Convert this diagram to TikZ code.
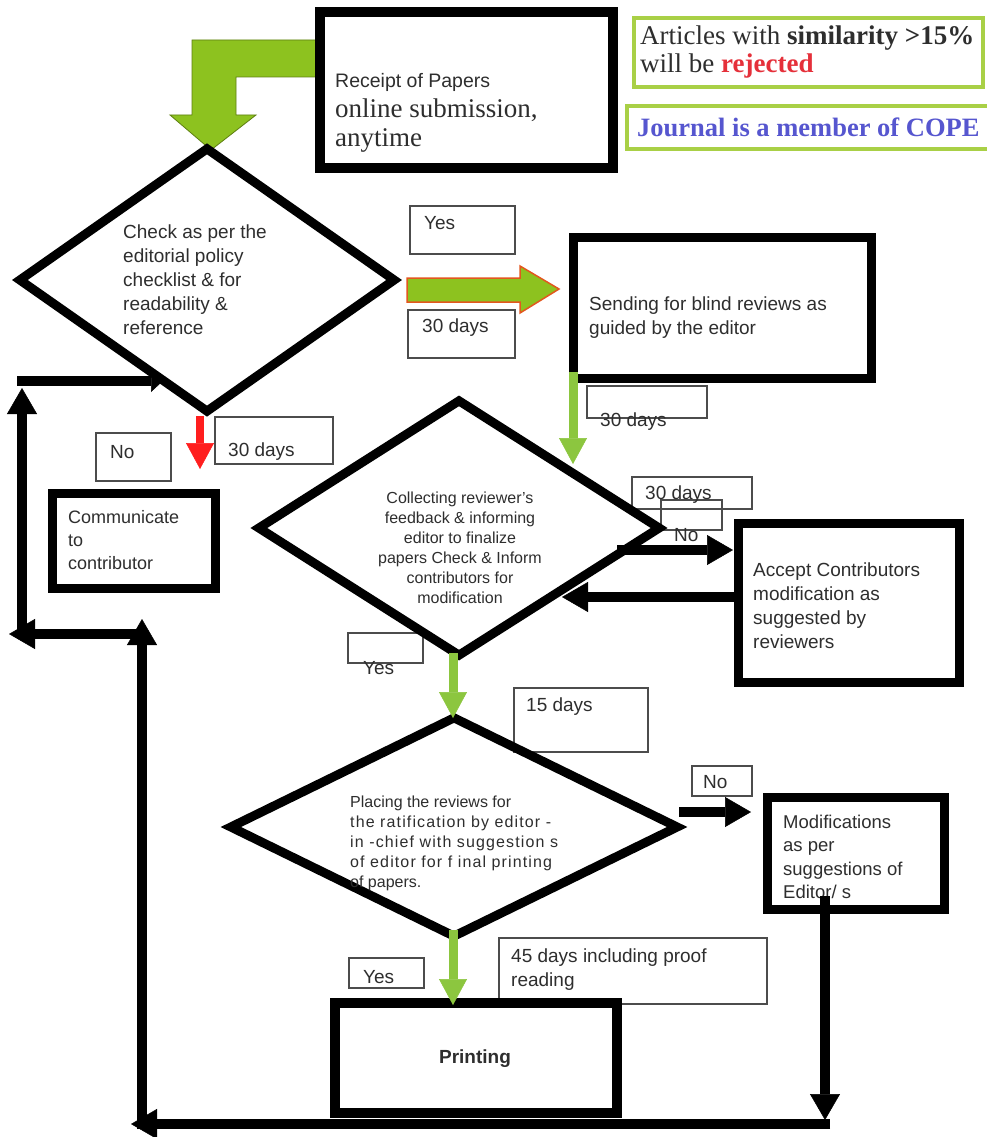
\documentclass[tikz,border=0pt]{standalone}
\usepackage{fontspec}
\setmainfont{Liberation Sans}
\newfontfamily\timesf{Liberation Serif}
\newfontfamily\arialsp{Liberation Sans}[LetterSpace=7]
\usetikzlibrary{shapes.geometric,arrows.meta}
\definecolor{tcol}{HTML}{2E2E2E}
\definecolor{lgreen}{HTML}{8DC21F}
\definecolor{agreen}{HTML}{8CC63F}
\definecolor{bgreen}{HTML}{A9D046}
\definecolor{olive}{HTML}{5E7F12}
\definecolor{orng}{HTML}{E2571E}
\definecolor{rred}{HTML}{FF1E1E}
\definecolor{rejred}{HTML}{E5303A}
\definecolor{copeblue}{HTML}{5656CF}
\begin{document}
\begin{tikzpicture}[x=1pt,y=-1pt,
  box/.style={draw=black, line width=9pt, inner sep=0pt},
  lbox/.style={draw=black!70, line width=1.3pt, inner sep=0pt},
  dia/.style={diamond, draw=black, line width=9pt, inner sep=0pt},
  txt/.style={text=tcol, inner sep=0pt, anchor=west, align=left, font=\fontsize{19}{24}\selectfont},
  blk/.style={draw=black, line width=10pt, -{Triangle[width=30pt,length=26pt,line width=0.5pt]}},
  blksmall/.style={draw=black, line width=10pt, -{Triangle[width=22pt,length=12pt,line width=0.5pt]}},
  grn/.style={draw=agreen, line width=9pt, -{Triangle[width=28pt,length=26pt,line width=0.5pt]}},
  rdar/.style={draw=rred, line width=8pt, -{Triangle[width=28pt,length=26pt,line width=0.5pt]}},
]
\fill[white] (0,0) rectangle (987,1137);
\useasboundingbox (0,0) rectangle (987,1137);

% thin label boxes
\node[lbox, minimum width=105pt, minimum height=48pt] (yesA) at (462.5,230) {};
\node[lbox, minimum width=107pt, minimum height=48pt] (dA) at (461.5,334) {};
\node[lbox, minimum width=75pt, minimum height=48pt] (noA) at (133.5,457) {};
\node[lbox, minimum width=118pt, minimum height=47pt] (dB) at (274,440.5) {};
\node[lbox, minimum width=120pt, minimum height=32pt] (dC) at (647,402) {};
\node[lbox, minimum width=120pt, minimum height=32pt] (dD) at (692,493) {};
\node[lbox, minimum width=61pt, minimum height=30pt] (noB) at (691.5,515) {};
\node[lbox, minimum width=75pt, minimum height=30pt] (yesB) at (385.5,648) {};
\node[lbox, minimum width=134pt, minimum height=64pt] (dE) at (581,720) {};
\node[lbox, minimum width=60pt, minimum height=30pt] (noC) at (722,781) {};
\node[lbox, minimum width=75pt, minimum height=30pt] (yesC) at (386.5,973) {};
\node[lbox, minimum width=268pt, minimum height=66pt] (dF) at (633,971) {};

% label texts
\node[txt] (yesAt) at (424,223) {Yes};
\node[txt] (dAt) at (422,328) {30 days};
\node[txt] (noAt) at (110,452) {No};
\node[txt] (dBt) at (228,452) {30 days};
\node[txt] (dCt) at (600,422) {30 days};
\node[txt] (dDt) at (645,495) {30 days};
\node[txt] (noBt) at (674,535) {No};
\node[txt] (yesBt) at (363,668) {Yes};
\node[txt] (dEt) at (526,707) {15 days};
\node[txt] (noCt) at (703,782) {No};
\node[txt] (yesCt) at (363,977) {Yes};
\node[txt] (dFt) at (511,970) {45 days including proof\\reading};

% loop-back arrow into first decision (drawn beneath it)
\coordinate (lpA) at (17,381);
\coordinate (lpB) at (163,381);
\draw[blksmall] (lpA) -- (lpB);

% green bent arrow from receipt
\filldraw[fill=lgreen, draw=olive, line width=0.8pt] (318,40) -- (192,40) -- (192,115) -- (170,115) -- (211,150) -- (256,115) -- (236,115) -- (236,77) -- (318,77) -- cycle;

% decisions
\node[dia, minimum width=378pt, minimum height=266pt] (d1) at (207,280) {};
\node[dia, minimum width=404pt, minimum height=258pt] (d2) at (459,528) {};
\node[dia, minimum width=450pt, minimum height=222pt] (d3) at (454,827) {};

% process boxes
\node[box, line width=10pt, minimum width=293pt, minimum height=156pt] (rec) at (466.5,90) {};
\node[box, minimum width=298pt, minimum height=141pt] (send) at (722,307.5) {};
\node[box, minimum width=221pt, minimum height=159pt] (acc) at (848.5,602.5) {};
\node[box, minimum width=163pt, minimum height=95pt] (com) at (133.5,540.5) {};
\node[box, minimum width=177pt, minimum height=112pt] (mod) at (855.5,853) {};
\node[box, line width=10pt, minimum width=282pt, minimum height=110pt] (prn) at (476,1058) {};

% top right notes
\node[draw=bgreen, line width=3.5pt, minimum width=349pt, minimum height=69pt, inner sep=0pt] (simbox) at (808.5,52.5) {};
\node[txt, font=\timesf\fontsize{27}{28}\selectfont] (simtxt) at (640,52) {Articles with \textbf{similarity >15\%}\\will be \textbf{\color{rejred}rejected}};
\node[draw=bgreen, line width=3.5pt, minimum width=368pt, minimum height=43pt, inner sep=0pt] (copebox) at (811,127.5) {};
\node[txt, text=copeblue, font=\timesf\bfseries\fontsize{26.5}{28}\selectfont] (copetxt) at (637,127) {Journal is a member of COPE};

% texts
\node[txt, font=\fontsize{19.5}{24}\selectfont] (r1) at (335,82) {Receipt of Papers};
\node[txt, font=\timesf\fontsize{27}{29}\selectfont] (r2) at (335,126) {online submission,\\anytime};
\node[txt] (t1) at (123,280) {Check as per the\\editorial policy\\checklist \& for\\readability \&\\reference};
\node[txt] (t4) at (589,318) {Sending for blind reviews as\\guided by the editor};
\node[txt, anchor=center, align=center, font=\fontsize{16}{20}\selectfont] (t2) at (460,548) {Collecting reviewer's\\feedback \& informing\\editor to finalize\\papers Check \& Inform\\contributors for\\modification};
\node[txt] (t5) at (753,606) {Accept Contributors\\modification as\\suggested by\\reviewers};
\node[txt, font=\fontsize{18}{23}\selectfont] (t6) at (68,540) {Communicate\\to\\contributor};
\node[txt, font=\fontsize{16}{20}\selectfont] (t3) at (350,843) {Placing the reviews for\\{\arialsp the ratification by editor -}\\{\arialsp in -chief with suggestion s}\\{\arialsp of editor for f inal printing}\\of papers.};
\node[txt, font=\fontsize{18.5}{23.3}\selectfont] (t7) at (783,857) {Modifications\\as per\\suggestions of\\Editor/ s};
\node[txt, anchor=center, font=\bfseries\fontsize{19}{24}\selectfont] (t8) at (475,1059) {Printing};

% green block arrow Yes
\filldraw[fill=lgreen, draw=orng, line width=1.5pt] (407,278) -- (520,278) -- (520,266) -- (559,289) -- (520,313) -- (520,302) -- (407,302) -- cycle;

% connectors
\coordinate (rA) at (200,416); \coordinate (rB) at (200,469);
\draw[rdar] (rA) -- (rB);
\coordinate (g1a) at (573,372); \coordinate (g1b) at (573,464);
\draw[grn] (g1a) -- (g1b);
\coordinate (g2a) at (453,653); \coordinate (g2b) at (453,718);
\draw[grn] (g2a) -- (g2b);
\coordinate (g3a) at (453,930); \coordinate (g3b) at (453,1005);
\draw[grn] (g3a) -- (g3b);
\coordinate (n1a) at (617,550); \coordinate (n1b) at (733,550);
\draw[blk] (n1a) -- (n1b);
\coordinate (b1a) at (738,597); \coordinate (b1b) at (562,597);
\draw[blk] (b1a) -- (b1b);
\coordinate (n2a) at (679,812); \coordinate (n2b) at (751,812);
\draw[blk] (n2a) -- (n2b);
\coordinate (m1a) at (825,896); \coordinate (m1b) at (825,1120);
\draw[blk] (m1a) -- (m1b);
\coordinate (bt1) at (830,1124); \coordinate (bt2) at (131,1124);
\draw[blk] (bt1) -- (bt2);
\coordinate (up1a) at (142,1129); \coordinate (up1b) at (142,619);
\draw[blk] (up1a) -- (up1b);
\coordinate (lf1a) at (147,634); \coordinate (lf1b) at (9,634);
\draw[blk] (lf1a) -- (lf1b);
\coordinate (up2a) at (22,639); \coordinate (up2b) at (22,388);
\draw[blk] (up2a) -- (up2b);
\end{tikzpicture}
\end{document}
